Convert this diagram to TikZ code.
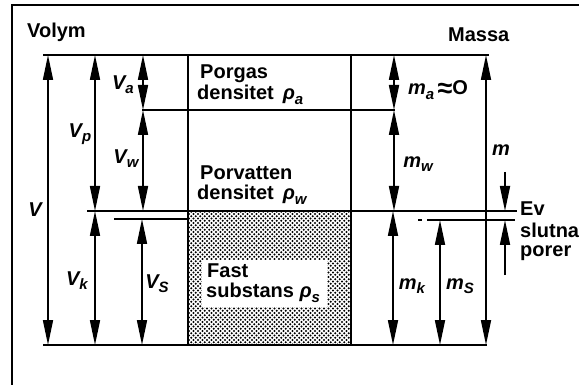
\documentclass[tikz,border=0pt]{standalone}
\usepackage{fontspec}
\setmainfont{Liberation Sans}
\usetikzlibrary{arrows.meta,patterns}
\pgfdeclarepatternformonly{soildots}{\pgfqpoint{-1.5pt}{-1.5pt}}{\pgfqpoint{6pt}{6pt}}{\pgfqpoint{4.5pt}{4.5pt}}{%
  \pgfpathcircle{\pgfqpoint{0pt}{0pt}}{1.15pt}%
  \pgfpathcircle{\pgfqpoint{2.25pt}{2.25pt}}{1.15pt}%
  \pgfusepath{fill}}
\newcommand\lsub[1]{\raisebox{-0.4ex}{\fontsize{15}{15}\selectfont #1}}
\tikzset{
  ln/.style={line width=1.9pt},
  tipA/.tip={Triangle[length=25pt,width=10pt]},
  dim/.style={line width=1.7pt,tipA-tipA},
  onearrow/.style={line width=1.7pt,-tipA},
  lab/.style={inner sep=0pt,font=\fontsize{20}{20}\selectfont\bfseries\itshape},
  txt/.style={inner sep=0pt,anchor=base west,font=\fontsize{20}{22}\selectfont\bfseries},
}
\begin{document}
\begin{tikzpicture}[x=1pt,y=-1pt]
\useasboundingbox (0,0) rectangle (579,385);
% frame
\draw[ln] (12,385) -- (12,5) -- (579,5);
% solid substance shading
\fill[pattern=soildots] (188,211) rectangle (351,345);
% horizontal lines
\coordinate (topL) at (43,55);   \coordinate (topR) at (489,55);
\coordinate (gasL) at (142,110); \coordinate (gasR) at (395,110);
\coordinate (watL) at (87,211);  \coordinate (watR) at (517,211);
\coordinate (solL) at (114,219); \coordinate (solM) at (188,219);
\coordinate (solR1) at (427,220); \coordinate (solR2) at (515,220);
\coordinate (dashA) at (418,220); \coordinate (dashB) at (422,220);
\coordinate (botL) at (43,345);  \coordinate (botR) at (487,345);
\coordinate (boxTL) at (188,55); \coordinate (boxBL) at (188,345);
\coordinate (boxTR) at (351,55); \coordinate (boxBR) at (351,345);
\draw[ln] (topL) -- (topR);
\draw[ln] (gasL) -- (gasR);
\draw[ln] (watL) -- (watR);
\draw[ln] (solL) -- (solM);
\draw[ln] (solR1) -- (solR2);
\draw[ln] (dashA) -- (dashB);
\draw[ln] (botL) -- (botR);
\draw[ln] (boxTL) -- (boxBL);
\draw[ln] (boxTR) -- (boxBR);
% white label box
\node[fill=white,inner sep=0pt,minimum width=125pt,minimum height=47pt,anchor=north west] (fastbg) at (202,260) {};
% dimension arrows, left
\coordinate (V1) at (48,55);   \coordinate (V2) at (48,345);
\coordinate (Vp1) at (95,55);  \coordinate (Vp2) at (95,211);
\coordinate (Vk1) at (95,211); \coordinate (Vk2) at (95,345);
\coordinate (Va1) at (143,55); \coordinate (Va2) at (143,110);
\coordinate (Vw1) at (143,110);\coordinate (Vw2) at (143,211);
\coordinate (Vs1) at (142,219);\coordinate (Vs2) at (142,345);
\draw[dim] (V1) -- (V2);
\draw[dim] (Vp1) -- (Vp2);
\draw[dim] (Vk1) -- (Vk2);
\draw[dim] (Va1) -- (Va2);
\draw[dim] (Vw1) -- (Vw2);
\draw[dim] (Vs1) -- (Vs2);
% dimension arrows, right
\coordinate (ma1) at (394,55);  \coordinate (ma2) at (394,110);
\coordinate (mw1) at (394,110); \coordinate (mw2) at (394,211);
\coordinate (mk1) at (393,211); \coordinate (mk2) at (393,345);
\coordinate (ms1) at (440,220); \coordinate (ms2) at (440,345);
\coordinate (m1) at (486,55);   \coordinate (m2) at (486,345);
\coordinate (dn1) at (505,172); \coordinate (dn2) at (505,211);
\coordinate (up1) at (505,275); \coordinate (up2) at (505,220);
\draw[dim] (ma1) -- (ma2);
\draw[dim] (mw1) -- (mw2);
\draw[dim] (mk1) -- (mk2);
\draw[dim] (ms1) -- (ms2);
\draw[dim] (m1) -- (m2);
\draw[onearrow] (dn1) -- (dn2);
\draw[onearrow] (up1) -- (up2);
% labels
\node[lab] (lV)  at (35,210) {V};
\node[lab] (lVp) at (80,134) {V\lsub{p}};
\node[lab] (lVa) at (123,85) {V\lsub{a}};
\node[lab] (lVw) at (126,159) {V\lsub{w}};
\node[lab] (lVk) at (77,281) {V\lsub{k}};
\node[lab] (lVs) at (157,284) {V\lsub{S}};
\node[lab] (lma) at (438,90) {m\lsub{a}\,\raisebox{-2.5pt}{\upshape\fontsize{27}{27}\selectfont≈}{\upshape O}};
\node[lab] (lmw) at (418,164) {m\lsub{w}};
\node[lab] (lm)  at (501,150) {m};
\node[lab] (lmk) at (412,286) {m\lsub{k}};
\node[lab] (lms) at (460,286) {m\lsub{S}};
% texts
\node[txt] (volym) at (27,38) {Volym};
\node[txt] (massa) at (448,42) {Massa};
\node[txt] (t1) at (200,79) {Porgas};
\node[txt] (t2) at (197,100) {densitet\hspace{9pt}{\itshape ρ\lsub{a}}};
\node[txt] (t3) at (200,180) {Porvatten};
\node[txt] (t4) at (197,200) {densitet\hspace{9pt}{\itshape ρ\lsub{w}}};
\node[txt] (t5) at (207,277) {Fast};
\node[txt] (t6) at (206,298) {substans {\itshape ρ\lsub{s}}};
\node[txt] (t7) at (520,215) {Ev};
\node[txt] (t8) at (520,237) {slutna};
\node[txt] (t9) at (520,256) {porer};
\end{tikzpicture}
\end{document}
